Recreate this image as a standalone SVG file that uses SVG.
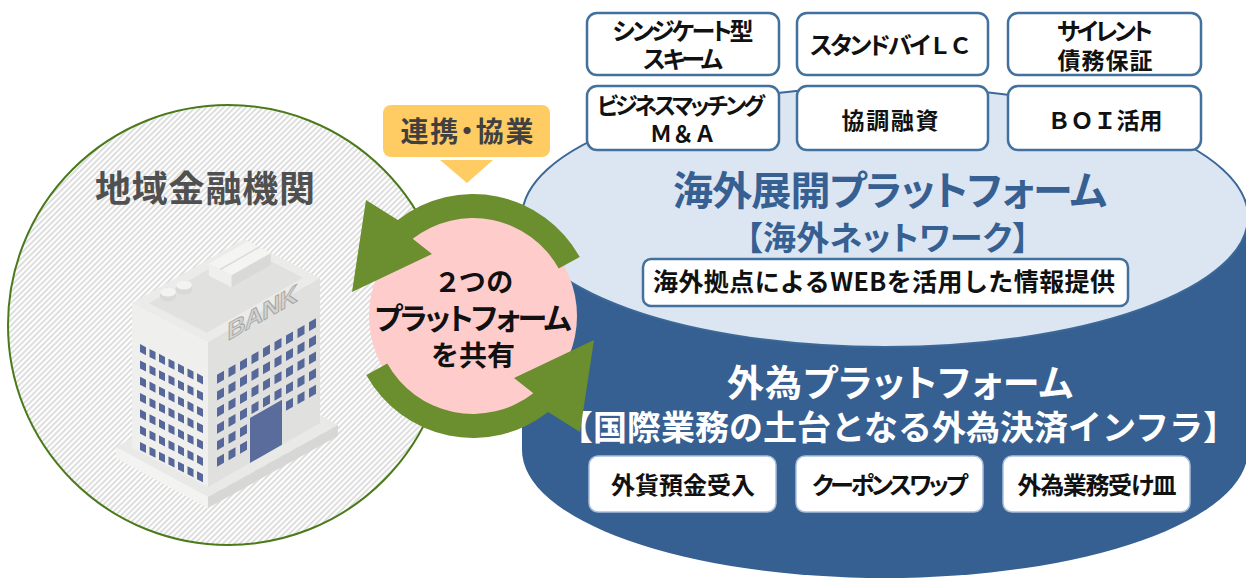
<svg xmlns="http://www.w3.org/2000/svg" xmlns:xlink="http://www.w3.org/1999/xlink" width="1246" height="580" viewBox="0 0 1246 580">
  <defs>
    <!-- fine diagonal hatch for the regional bank circle -->
    <pattern id="hatch" patternUnits="userSpaceOnUse" width="4" height="4" patternTransform="rotate(45)">
      <rect width="4" height="4" fill="#ffffff"/>
      <line x1="2" y1="0" x2="2" y2="4" stroke="#c4c4c4" stroke-width="1.1"/>
    </pattern>
    <!-- window rows of the bank building -->
    <g id="lrow">
      <rect x="8" y="0" width="6" height="8"/><rect x="17.5" y="0" width="6" height="8"/>
      <rect x="27" y="0" width="6" height="8"/><rect x="36.5" y="0" width="6" height="8"/>
      <rect x="46" y="0" width="6" height="8"/><rect x="55.5" y="0" width="6" height="8"/>
      <rect x="65" y="0" width="6" height="8"/>
    </g>
    <g id="rrow-a">
      <rect x="9" y="0" width="7" height="9"/><rect x="20.5" y="0" width="7" height="9"/>
      <rect x="32" y="0" width="7" height="9"/>
    </g>
    <g id="rrow-b">
      <rect x="43.5" y="0" width="7" height="9"/><rect x="55" y="0" width="7" height="9"/>
      <rect x="66.5" y="0" width="7" height="9"/>
    </g>
    <g id="rrow-c">
      <rect x="78" y="0" width="7" height="9"/><rect x="89.5" y="0" width="7" height="9"/>
      <rect x="101" y="0" width="7" height="9"/>
    </g>
    <!-- circular arrow segment around the shared-platform disc -->
    <path id="ring-arrow" d="M 579.7 256.9 A 122 122 0 0 0 397.9 219.9 L 366 200 L 352 292 L 432 254 L 412.7 238.8 A 98 98 0 0 1 558.7 268.5 Z"/>
  </defs>
  <style>
    text { font-family: 'Noto Sans CJK JP', 'Noto Sans CJK SC', sans-serif; font-weight: 700; text-anchor: middle; }
    .p { font-feature-settings: "palt" 1; }
    .box { fill: #ffffff; stroke: #41719c; stroke-width: 2.5; }
    .lbox { fill: #ffffff; stroke: #a9bedb; stroke-width: 1.5; }
    .ink { fill: #111111; }
    .win { fill: #56679a; }
    .arrow { fill: #6b8e2f; }
  </style>

  <!-- regional financial institution -->
  <g id="regional-bank">
    <circle cx="228" cy="325" r="220" fill="url(#hatch)" stroke="#4a7a1a" stroke-width="2"/>
    <text x="205" y="202" font-size="36" fill="#505050" textLength="220">地域金融機関</text>
    <g id="bank-building">
      <!-- plinth -->
      <polygon points="116,447 208,497 338,425 246,375" fill="#e9e9e7"/>
      <polygon points="116,447 208,497 208,508 116,458" fill="#f3f3f1"/>
      <polygon points="208,497 338,425 338,436 208,508" fill="#d7d7d5"/>
      <!-- walls -->
      <polygon points="132,303 208,342 208,487 132,448" fill="#efefed"/>
      <polygon points="208,342 320,278 320,423 208,487" fill="#e0e0de"/>
      <!-- roof -->
      <polygon points="132,303 208,342 320,278 244,239" fill="#ebebe9"/>
      <polygon points="148.9,303.2 206.7,332.8 303.1,277.8 245.3,248.2" fill="#e1e1df"/>
      <!-- roof unit -->
      <polygon points="208.8,275.6 231.6,287.3 231.6,275.3 208.8,263.6" fill="#efefed"/>
      <polygon points="231.6,287.3 270.8,264.9 270.8,252.9 231.6,275.3" fill="#d9d9d7"/>
      <polygon points="208.8,263.6 231.6,275.3 270.8,252.9 248,241.2" fill="#f4f4f2"/>
      <line x1="220.2" y1="269.5" x2="259.4" y2="247" stroke="#dcdcda" stroke-width="1.5"/>
      <!-- roof tanks -->
      <path d="M160,297 v-5 a8,4.5 0 0,1 16,0 v5 a8,4.5 0 0,1 -16,0 z" fill="#d9d9d7"/>
      <ellipse cx="168" cy="292" rx="8" ry="4.5" fill="#f3f3f1"/>
      <path d="M176,290 v-5 a8,4.5 0 0,1 16,0 v5 a8,4.5 0 0,1 -16,0 z" fill="#d9d9d7"/>
      <ellipse cx="184" cy="285" rx="8" ry="4.5" fill="#f3f3f1"/>
      <!-- left facade windows -->
      <g class="win" transform="matrix(1,0.513,0,1,132,303)">
        <use xlink:href="#lrow" y="37"/><use xlink:href="#lrow" y="53.3"/>
        <use xlink:href="#lrow" y="69.6"/><use xlink:href="#lrow" y="85.9"/>
        <use xlink:href="#lrow" y="102.2"/><use xlink:href="#lrow" y="118.5"/>
        <use xlink:href="#lrow" y="134.8"/>
      </g>
      <!-- right facade windows and door -->
      <g class="win" transform="matrix(1,-0.571,0,1,208,342)">
        <use xlink:href="#rrow-a" y="38"/><use xlink:href="#rrow-b" y="38"/><use xlink:href="#rrow-c" y="38"/>
        <use xlink:href="#rrow-a" y="54.6"/><use xlink:href="#rrow-b" y="54.6"/><use xlink:href="#rrow-c" y="54.6"/>
        <use xlink:href="#rrow-a" y="71.2"/><use xlink:href="#rrow-b" y="71.2"/><use xlink:href="#rrow-c" y="71.2"/>
        <use xlink:href="#rrow-a" y="87.8"/><use xlink:href="#rrow-b" y="87.8"/><use xlink:href="#rrow-c" y="87.8"/>
        <use xlink:href="#rrow-a" y="104.4"/><use xlink:href="#rrow-c" y="104.4"/>
        <use xlink:href="#rrow-a" y="121"/>
        <rect x="42" y="100" width="32" height="45" fill="#5a6c9c"/>
      </g>
      <text transform="matrix(1,-0.571,0,1,208,342)" x="54.5" y="10" font-size="25" textLength="70"
            style="font-family:'Liberation Sans',sans-serif" fill="#d3d3d1" stroke="#a3a3a1" stroke-width="0.9">BANK</text>
    </g>
  </g>

  <!-- platform cylinder -->
  <g id="platform-cylinder">
    <path id="fx-platform-body" d="M522,217 L522,450 A363,128 0 0 0 1248,450 L1248,217 Z" fill="#376092"/>
    <ellipse id="overseas-platform-top" cx="885" cy="217" rx="363" ry="130" fill="#dce6f2" stroke="#3c6898" stroke-width="2"/>
  </g>

  <!-- overseas expansion platform -->
  <g id="overseas-platform">
    <text class="p" x="890" y="205" font-size="40" fill="#376092" textLength="434">海外展開プラットフォーム</text>
    <text class="p" x="887.5" y="250" font-size="33" fill="#376092" textLength="283">【海外ネットワーク】</text>
    <g id="web-info">
      <rect class="box" x="643" y="259" width="485" height="47" rx="8"/>
      <text class="ink" x="884" y="291" font-size="25" textLength="462">海外拠点によるWEBを活用した情報提供</text>
    </g>
  </g>

  <!-- service boxes on top of the cylinder -->
  <g id="syndicate">
    <rect class="box" x="587" y="13" width="192" height="62" rx="10"/>
    <text class="ink p" x="683" y="40" font-size="24" textLength="141">シンジケート型</text>
    <text class="ink p" x="683" y="68" font-size="24" textLength="80">スキーム</text>
  </g>
  <g id="standby-lc">
    <rect class="box" x="797" y="13" width="191" height="62" rx="10"/>
    <text class="ink" x="891" y="54" font-size="23" textLength="162"><tspan class="p" font-size="24">スタンドバイ</tspan>ＬＣ</text>
  </g>
  <g id="silent-guarantee">
    <rect class="box" x="1008" y="13" width="193" height="62" rx="10"/>
    <text class="ink p" x="1105" y="40" font-size="24" textLength="96">サイレント</text>
    <text class="ink" x="1105" y="69" font-size="23" textLength="95">債務保証</text>
  </g>
  <g id="business-matching">
    <rect class="box" x="587" y="86" width="192" height="64" rx="10"/>
    <text class="ink p" x="681" y="114" font-size="23" textLength="168">ビジネスマッチング</text>
    <text class="ink" x="683" y="142" font-size="22">Ｍ＆Ａ</text>
  </g>
  <g id="syndicated-loan">
    <rect class="box" x="797" y="86" width="191" height="64" rx="10"/>
    <text class="ink" x="890" y="129" font-size="23" textLength="97">協調融資</text>
  </g>
  <g id="boi">
    <rect class="box" x="1008" y="86" width="193" height="64" rx="10"/>
    <text class="ink" x="1105" y="129" font-size="23" textLength="115">ＢＯＩ活用</text>
  </g>

  <!-- foreign exchange platform -->
  <g id="fx-platform">
    <text class="p" x="900" y="397" font-size="37" fill="#ffffff" textLength="346">外為プラットフォーム</text>
    <text x="898" y="440" font-size="34" fill="#ffffff">【国際業務の土台となる外為決済インフラ】</text>
    <g id="fx-deposit">
      <rect class="lbox" x="589" y="456" width="187" height="56" rx="9"/>
      <text class="ink" x="683" y="494" font-size="24">外貨預金受入</text>
    </g>
    <g id="coupon-swap">
      <rect class="lbox" x="796" y="456" width="187" height="56" rx="9"/>
      <text class="ink p" x="890" y="494" font-size="24" textLength="156">クーポンスワップ</text>
    </g>
    <g id="fx-receiver">
      <rect class="lbox" x="1003" y="456" width="187" height="56" rx="9"/>
      <text class="ink p" x="1097" y="494" font-size="24" textLength="159">外為業務受け皿</text>
    </g>
  </g>

  <!-- shared platform disc with circular arrows -->
  <g id="platform-share">
    <circle cx="473" cy="316" r="104" fill="#ffcccc"/>
    <text class="ink p" x="475" y="292" font-size="27" textLength="76">２つの</text>
    <text class="ink p" x="473" y="329" font-size="30" textLength="197">プラットフォーム</text>
    <text class="ink" x="473" y="366" font-size="28">を共有</text>
  </g>
  <g id="connectors">
    <use xlink:href="#ring-arrow" class="arrow"/>
    <use xlink:href="#ring-arrow" class="arrow" transform="rotate(180 473 316)"/>
  </g>

  <!-- cooperation label -->
  <g id="collab-label">
    <rect x="383" y="105" width="167" height="52" rx="8" fill="#ffcb63"/>
    <polygon points="440,160 493,160 467,183" fill="#ffcb63"/>
    <text class="p" x="467" y="142" font-size="28" fill="#404040" textLength="133">連携・協業</text>
  </g>
</svg>
